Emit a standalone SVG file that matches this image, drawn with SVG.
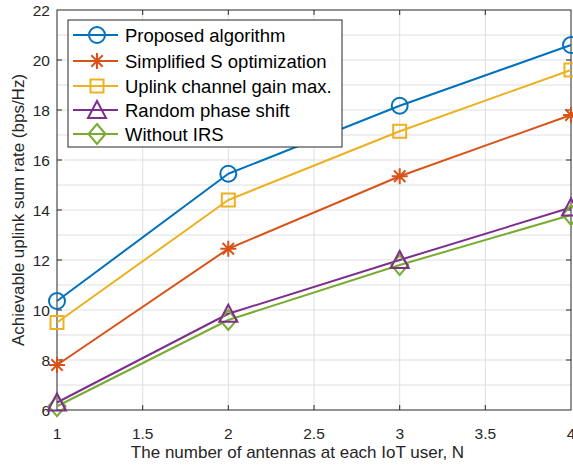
<svg xmlns="http://www.w3.org/2000/svg" width="573" height="466" viewBox="0 0 573 466">
<style>
text{font-family:"Liberation Sans",Arial,sans-serif;fill:#262626}
.tick{font-size:15.5px}
.lab{font-size:17px}
.leg{font-size:18.5px}
.grid{stroke:#dfdfdf;stroke-width:1;fill:none}
.ax{stroke:#262626;stroke-width:1;fill:none}
.s{fill:none;stroke-width:2;stroke-linejoin:round}
.c1{stroke:#0072BD}.c2{stroke:#D95319}.c3{stroke:#EDB120}.c4{stroke:#7E2F8E}.c5{stroke:#77AC30}
</style>
<defs>
<circle id="mO" r="8" fill="none" stroke-width="2"/>
<path id="mX" d="M-8,0H8M0,-8V8M-5.7,-5.7L5.7,5.7M-5.7,5.7L5.7,-5.7" fill="none" stroke-width="2"/>
<rect id="mS" x="-6.5" y="-6.5" width="13" height="13" fill="none" stroke-width="2"/>
<path id="mT" d="M0,-9L9,8H-9Z" fill="none" stroke-width="2" stroke-linejoin="miter"/>
<path id="mD" d="M0,-10L8.5,0L0,10L-8.5,0Z" fill="none" stroke-width="2"/>
</defs>
<rect width="573" height="466" fill="#fff"/>
<g id="grid">
<path class="grid" d="M142.7,10V410M228.3,10V410M314,10V410M399.7,10V410M485.3,10V410M57,35H571M57,60H571M57,85H571M57,110H571M57,135H571M57,160H571M57,185H571M57,210H571M57,235H571M57,260H571M57,285H571M57,310H571M57,335H571M57,360H571M57,385H571"/>
</g>
<g id="axes">
<rect class="ax" x="57" y="10" width="514" height="400"/>
<path class="ax" d="M142.7,410v-5M228.3,410v-5M314,410v-5M399.7,410v-5M485.3,410v-5M142.7,10v5M228.3,10v5M314,10v5M399.7,10v5M485.3,10v5M57,60h5M57,110h5M57,160h5M57,210h5M57,260h5M57,310h5M57,360h5M571,60h-5M571,110h-5M571,160h-5M571,210h-5M571,260h-5M571,310h-5M571,360h-5"/>
<g class="tick" text-anchor="middle">
<text x="57" y="439">1</text><text x="142.7" y="439">1.5</text><text x="228.3" y="439">2</text><text x="314" y="439">2.5</text><text x="399.7" y="439">3</text><text x="485.3" y="439">3.5</text><text x="571" y="439">4</text>
</g>
<g class="tick" text-anchor="end">
<text x="50" y="415.5">6</text><text x="50" y="365.5">8</text><text x="50" y="315.5">10</text><text x="50" y="265.5">12</text><text x="50" y="215.5">14</text><text x="50" y="165.5">16</text><text x="50" y="115.5">18</text><text x="50" y="65.5">20</text><text x="50" y="15.5">22</text>
</g>
<text class="lab" x="297.5" y="457.5" text-anchor="middle">The number of antennas at each IoT user, N</text>
<text class="lab" transform="translate(24,210) rotate(-90)" text-anchor="middle">Achievable uplink sum rate (bps/Hz)</text>
</g>
<g id="connectors">
<polyline class="s c5" points="57,406.25 228.3,320 399.7,265 571,215"/>
<polyline class="s c4" points="57,402.5 228.3,313.75 399.7,260 571,207.5"/>
<polyline class="s c3" points="57,322.5 228.3,200 399.7,131.25 571,70"/>
<polyline class="s c2" points="57,365 228.3,248.75 399.7,176.25 571,115"/>
<polyline class="s c1" points="57,301 228.3,173.75 399.7,105.75 571,45"/>
</g>
<g id="series-without-irs" class="c5">
<use href="#mD" x="57" y="406.25"/><use href="#mD" x="228.3" y="320"/><use href="#mD" x="399.7" y="265"/><use href="#mD" x="571" y="215"/>
</g>
<g id="series-random" class="c4">
<use href="#mT" x="57" y="402.5"/><use href="#mT" x="228.3" y="313.75"/><use href="#mT" x="399.7" y="260"/><use href="#mT" x="571" y="207.5"/>
</g>
<g id="series-uplink" class="c3">
<use href="#mS" x="57" y="322.5"/><use href="#mS" x="228.3" y="200"/><use href="#mS" x="399.7" y="131.25"/><use href="#mS" x="571" y="70"/>
</g>
<g id="series-simplified" class="c2">
<use href="#mX" x="57" y="365"/><use href="#mX" x="228.3" y="248.75"/><use href="#mX" x="399.7" y="176.25"/><use href="#mX" x="571" y="115"/>
</g>
<g id="series-proposed" class="c1">
<use href="#mO" x="57" y="301"/><use href="#mO" x="228.3" y="173.75"/><use href="#mO" x="399.7" y="105.75"/><use href="#mO" x="571" y="45"/>
</g>
<g id="legend">
<rect x="68" y="20" width="274" height="127" fill="#fff" stroke="#262626" stroke-width="1"/>
<path class="s c1" d="M73,35H118"/><use href="#mO" class="c1" x="97" y="35"/>
<path class="s c2" d="M73,61H118"/><use href="#mX" class="c2" x="97" y="61"/>
<path class="s c3" d="M73,86H118"/><use href="#mS" class="c3" x="97" y="86"/>
<path class="s c4" d="M73,110H118"/><use href="#mT" class="c4" x="97" y="110"/>
<path class="s c5" d="M73,134H118"/><use href="#mD" class="c5" x="97" y="134"/>
<g class="leg" fill="#000">
<text x="125" y="41.5" style="fill:#000">Proposed algorithm</text>
<text x="125" y="67.5" style="fill:#000">Simplified S optimization</text>
<text x="125" y="92.5" style="fill:#000">Uplink channel gain max.</text>
<text x="125" y="116.5" style="fill:#000">Random phase shift</text>
<text x="125" y="140.5" style="fill:#000">Without IRS</text>
</g>
</g>
</svg>
